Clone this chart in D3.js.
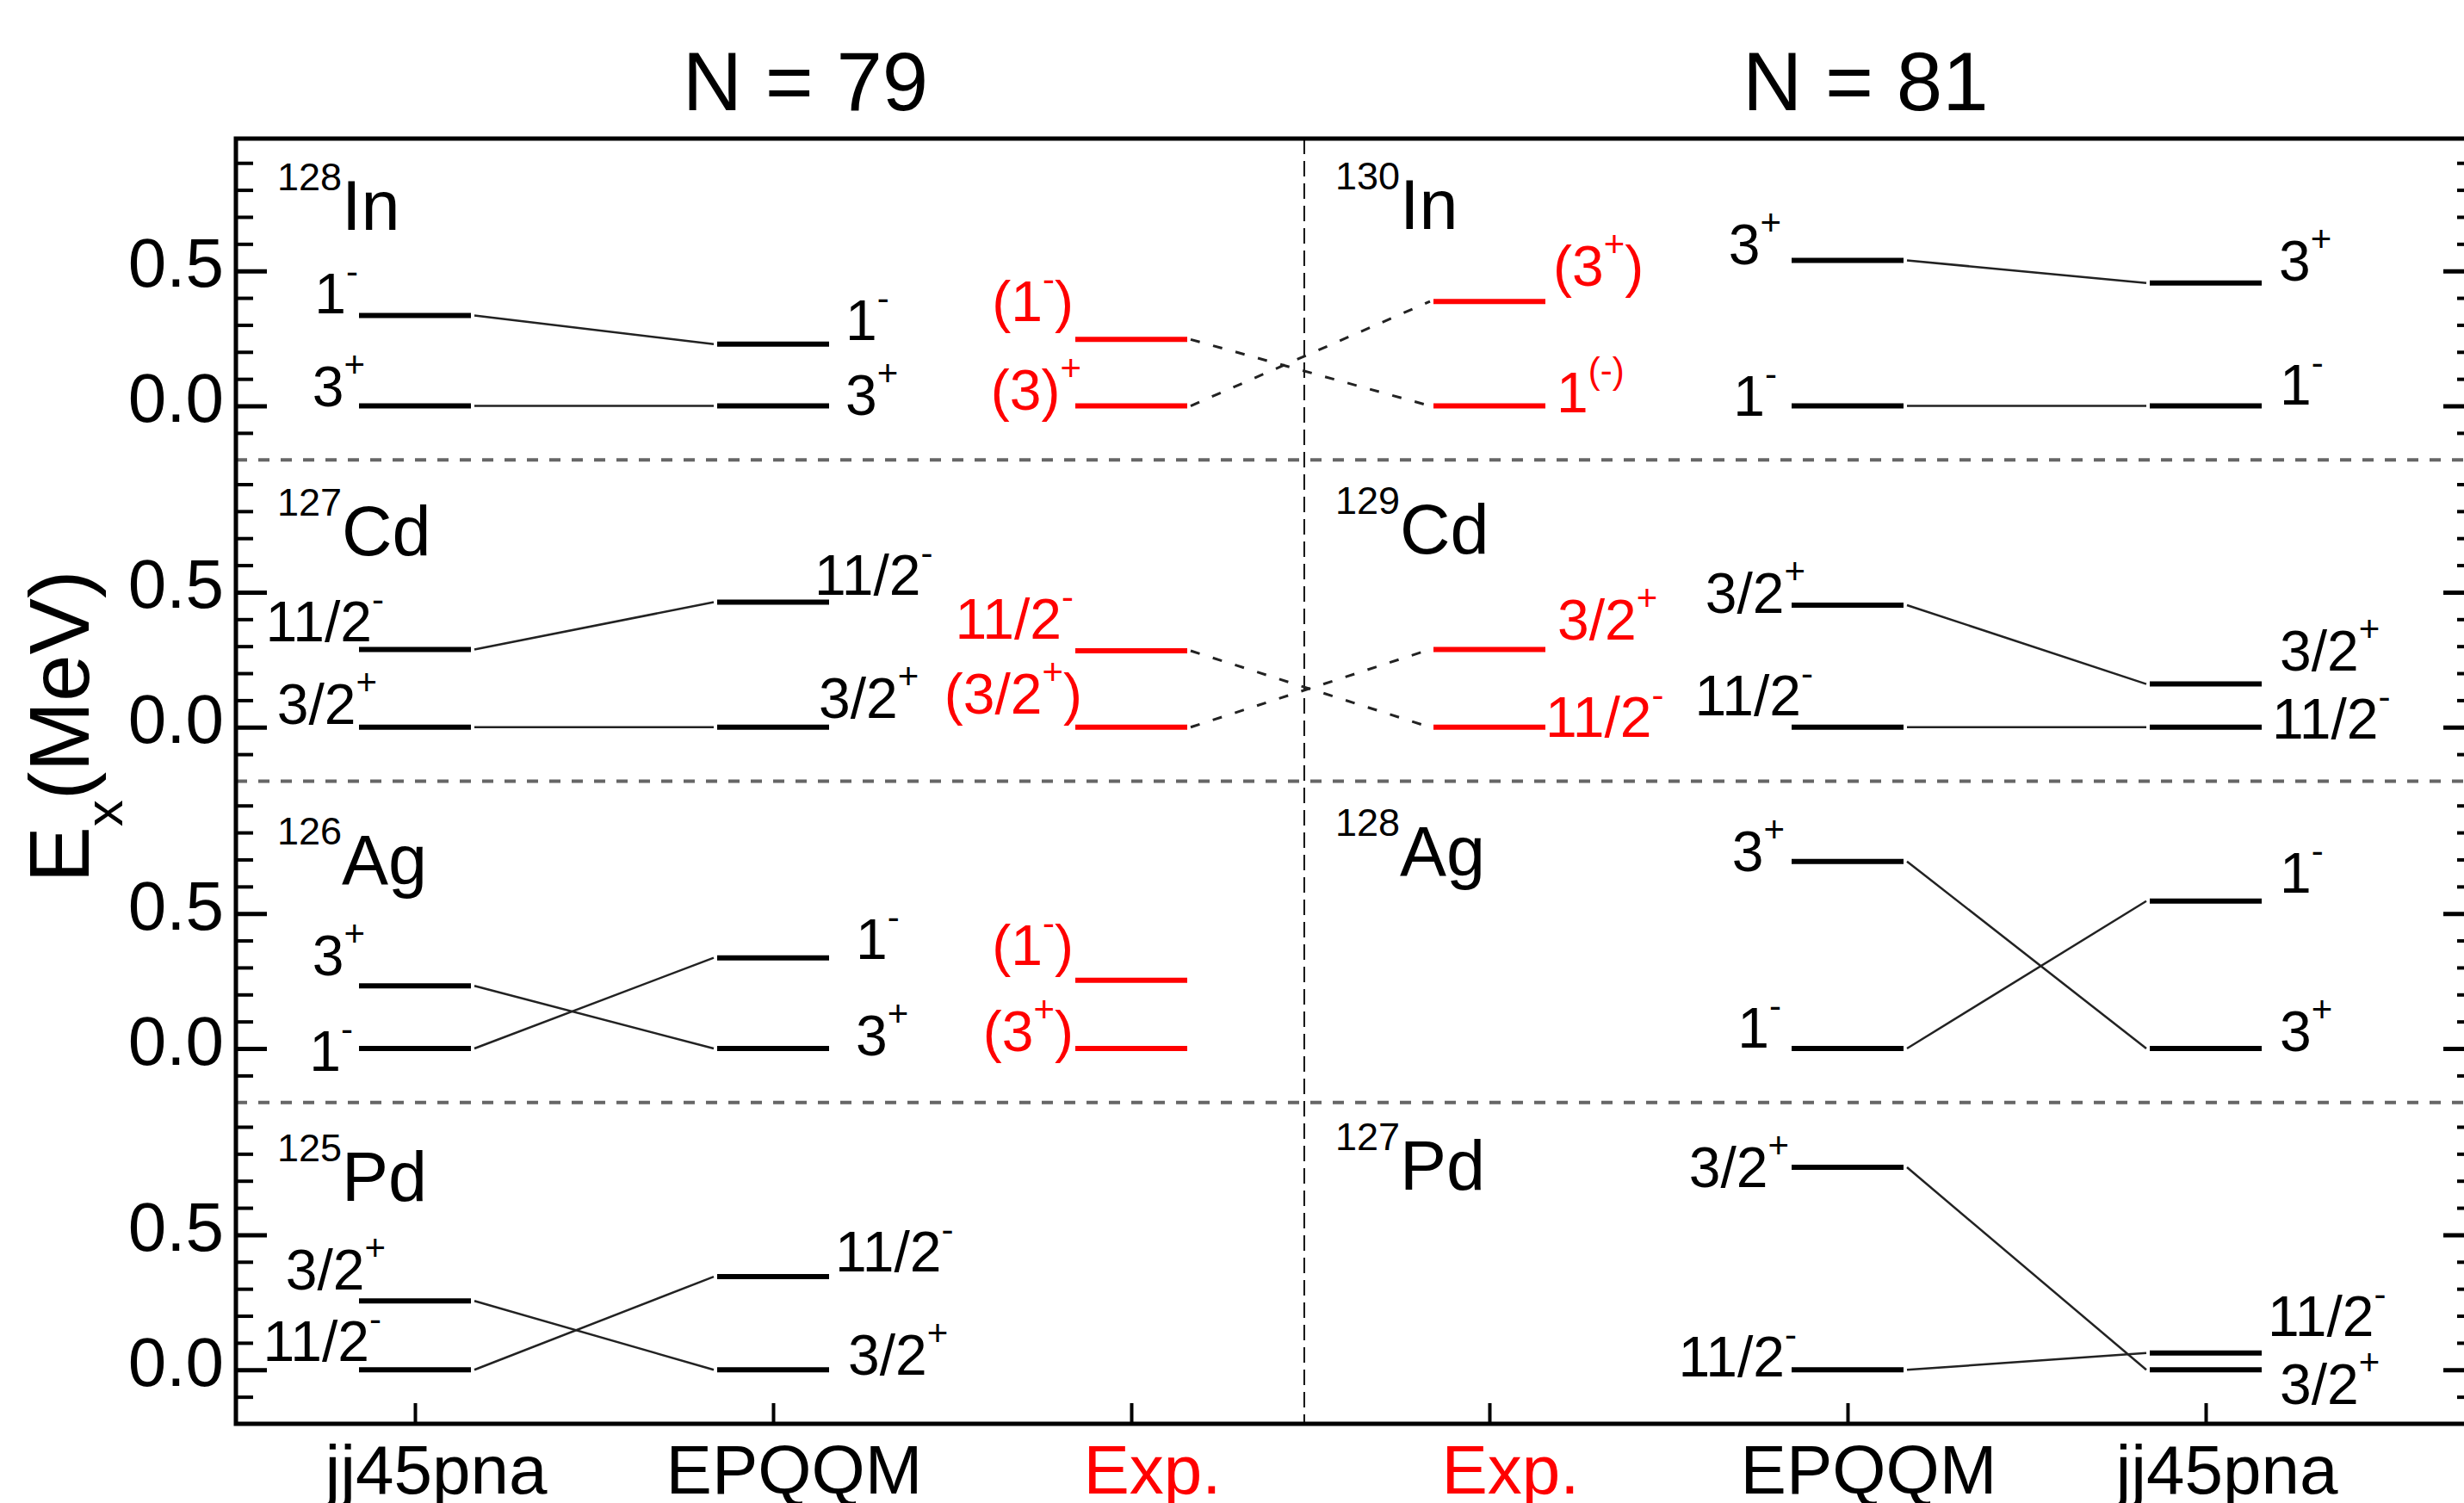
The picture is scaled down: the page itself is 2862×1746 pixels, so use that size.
<!DOCTYPE html>
<html>
<head>
<meta charset="utf-8">
<script src="https://cdn.jsdelivr.net/npm/d3@7"></script>
<style>
  body { margin: 0; background: #fff; }
  svg { display: block; }
</style>
</head>
<body>
<div id="chart"></div>
<script>
// ---- data ----
const categories = ["jj45pna", "EPQQM", "Exp.", "Exp.", "EPQQM", "jj45pna"];
const expColumns = [3, 4];
const panelTitles = ["N = 79", "N = 81"];
const nucleiN79 = [["128", "In"], ["127", "Cd"], ["126", "Ag"], ["125", "Pd"]];
const nucleiN81 = [["130", "In"], ["129", "Cd"], ["128", "Ag"], ["127", "Pd"]];
const majorTicks = [0, 0.5];
const minorTicks = [-0.1, 0.1, 0.2, 0.3, 0.4, 0.6, 0.7, 0.8, 0.9];

// [row, column (1..6), Ex (MeV), J^pi, label]  ({..} = superscript)
const levels = [
  [0, 1, 0.335, "1-", "1{-}"],
  [0, 1, 0.000, "3+", "3{+}"],
  [0, 2, 0.229, "1-", "1{-}"],
  [0, 2, 0.000, "3+", "3{+}"],
  [0, 3, 0.246, "1-", "(1{-})"],
  [0, 3, 0.000, "3+", "(3){+}"],
  [0, 4, 0.387, "3+", "(3{+})"],
  [0, 4, 0.000, "1-", "1{(-)}"],
  [0, 5, 0.539, "3+", "3{+}"],
  [0, 5, 0.000, "1-", "1{-}"],
  [0, 6, 0.455, "3+", "3{+}"],
  [0, 6, 0.000, "1-", "1{-}"],

  [1, 1, 0.288, "11/2-", "11/2{-}"],
  [1, 1, 0.000, "3/2+", "3/2{+}"],
  [1, 2, 0.463, "11/2-", "11/2{-}"],
  [1, 2, 0.000, "3/2+", "3/2{+}"],
  [1, 3, 0.283, "11/2-", "11/2{-}"],
  [1, 3, 0.000, "3/2+", "(3/2{+})"],
  [1, 4, 0.288, "3/2+", "3/2{+}"],
  [1, 4, 0.000, "11/2-", "11/2{-}"],
  [1, 5, 0.452, "3/2+", "3/2{+}"],
  [1, 5, 0.000, "11/2-", "11/2{-}"],
  [1, 6, 0.160, "3/2+", "3/2{+}"],
  [1, 6, 0.000, "11/2-", "11/2{-}"],

  [2, 1, 0.232, "3+", "3{+}"],
  [2, 1, 0.000, "1-", "1{-}"],
  [2, 2, 0.336, "1-", "1{-}"],
  [2, 2, 0.000, "3+", "3{+}"],
  [2, 3, 0.253, "1-", "(1{-})"],
  [2, 3, 0.000, "3+", "(3{+})"],
  [2, 5, 0.693, "3+", "3{+}"],
  [2, 5, 0.000, "1-", "1{-}"],
  [2, 6, 0.546, "1-", "1{-}"],
  [2, 6, 0.000, "3+", "3{+}"],

  [3, 1, 0.255, "3/2+", "3/2{+}"],
  [3, 1, 0.000, "11/2-", "11/2{-}"],
  [3, 2, 0.345, "11/2-", "11/2{-}"],
  [3, 2, 0.000, "3/2+", "3/2{+}"],
  [3, 5, 0.750, "3/2+", "3/2{+}"],
  [3, 5, 0.000, "11/2-", "11/2{-}"],
  [3, 6, 0.062, "11/2-", "11/2{-}"],
  [3, 6, 0.000, "3/2+", "3/2{+}"]
];

// ---- layout ----
// label nudges for each level above: [dx from column centre, dy from level] in px
const labelNudge = [
  [-66, -2], [-58, 0], [84, -5], [84, 10], [-67, -21], [-58, 4],
  [74, -18], [78, 7], [-77, 5], [-82, 11], [85, -3], [86, -2],
  [-36, -9], [-44, -4], [48, -9], [53, -11], [-67, -14], [-57, -16],
  [79, -11], [65, 11], [-49, 9], [-40, -14], [86, -16], [77, 13],
  [-58, -12], [-72, 26], [96, 1], [96, 8], [-67, -18], [-67, 3],
  [-73, 11], [-77, -1], [86, -10], [86, 3],
  [-34, -13], [-39, -10], [72, -6], [87, 6], [-68, 23], [-59, 8],
  [72, -20], [86, 40]
];
// baseline of the nucleus names, in MeV of each row: [N=79, N=81]
const nucleusLabelE = [[0.652, 0.655], [0.636, 0.643], [0.609, 0.641], [0.626, 0.668]];
const titleX = [2.09, 5.05];
const dividerX = 3.483;

const W = 2862, H = 1746;
const FONT = '"Liberation Sans", Arial, Helvetica, sans-serif';
const RED = "#ff0000";
const frame = { left: 274, right: 2874, top: 161, bottom: 1654 };
const halfLevel = 65;

const svg = d3.select("#chart").append("svg")
  .attr("width", W).attr("height", H)
  .attr("font-family", FONT);

const x = d3.scaleLinear().domain([0.5, 6.75]).range([frame.left, frame.right]);
const rowBand = d3.scaleBand().domain(d3.range(4)).range([frame.top, frame.bottom]);
const yOf = r => d3.scaleLinear().domain([-0.2, 0.99])
  .range([rowBand(r) + rowBand.bandwidth(), rowBand(r)]);
const colour = col => expColumns.includes(col) ? RED : "#000";

function parseLabel(s) {
  const parts = [];
  s.split(/(\{[^}]*\})/).forEach(p => {
    if (!p) return;
    if (p[0] === "{") parts.push({ t: p.slice(1, -1), sup: true });
    else parts.push({ t: p, sup: false });
  });
  return parts;
}

function fillSpans(text, parts, size, supSize, raise) {
  let cur = 0;
  parts.forEach(p => {
    const target = p.sup ? -raise : 0;
    text.append("tspan")
      .attr("font-size", p.sup ? supSize : size)
      .attr("dy", target - cur)
      .text(p.t);
    cur = target;
  });
}

// row separators and middle divider
d3.range(1, 4).forEach(r => {
  svg.append("line")
    .attr("x1", frame.left).attr("x2", frame.right)
    .attr("y1", rowBand(r)).attr("y2", rowBand(r))
    .attr("stroke", "#666").attr("stroke-width", 4)
    .attr("stroke-dasharray", "13,13");
});
svg.append("line")
  .attr("x1", x(dividerX)).attr("x2", x(dividerX))
  .attr("y1", frame.top).attr("y2", frame.bottom)
  .attr("stroke", "#111").attr("stroke-width", 2)
  .attr("stroke-dasharray", "18,8");

// y axes (one per row, left and right)
d3.range(4).forEach(r => {
  const y = yOf(r);
  svg.append("g")
    .attr("transform", `translate(${frame.left},0)`)
    .call(d3.axisLeft(y).tickValues(minorTicks).tickSizeInner(-20).tickSizeOuter(0).tickFormat(""))
    .call(g => g.select(".domain").remove())
    .call(g => g.selectAll("line").attr("stroke", "#000").attr("stroke-width", 4));
  svg.append("g")
    .attr("transform", `translate(${frame.left},0)`)
    .call(d3.axisLeft(y).tickValues(majorTicks).tickSizeInner(-36).tickSizeOuter(0)
      .tickPadding(14).tickFormat(d3.format(".1f")))
    .attr("font-family", FONT).attr("font-size", 80)
    .call(g => g.select(".domain").remove())
    .call(g => g.selectAll("line").attr("stroke", "#000").attr("stroke-width", 5))
    .call(g => g.selectAll("text").attr("dy", 18).attr("fill", "#000"));
  svg.append("g")
    .attr("transform", `translate(${frame.right},0)`)
    .call(d3.axisRight(y).tickValues(minorTicks).tickSizeInner(-20).tickSizeOuter(0).tickFormat(""))
    .call(g => g.select(".domain").remove())
    .call(g => g.selectAll("line").attr("stroke", "#000").attr("stroke-width", 4));
  svg.append("g")
    .attr("transform", `translate(${frame.right},0)`)
    .call(d3.axisRight(y).tickValues(majorTicks).tickSizeInner(-36).tickSizeOuter(0).tickFormat(""))
    .call(g => g.select(".domain").remove())
    .call(g => g.selectAll("line").attr("stroke", "#000").attr("stroke-width", 5));
});

// bottom axis with the method names
svg.append("g")
  .attr("transform", `translate(0,${frame.bottom})`)
  .call(d3.axisBottom(x).tickValues(d3.range(1, 7)).tickSizeInner(-24).tickSizeOuter(0)
    .tickFormat(d => categories[d - 1]))
  .attr("font-family", FONT).attr("font-size", 80)
  .call(g => g.select(".domain").remove())
  .call(g => g.selectAll("line").attr("stroke", "#000").attr("stroke-width", 4))
  .call(g => g.selectAll("text")
    .attr("y", 81).attr("dy", 0).attr("dx", 24)
    .attr("fill", d => colour(d)));

// frame
svg.append("rect")
  .attr("x", frame.left).attr("y", frame.top)
  .attr("width", frame.right - frame.left).attr("height", frame.bottom - frame.top)
  .attr("fill", "none").attr("stroke", "#000").attr("stroke-width", 5);

// connections between columns of the same half
const pairs = [[1, 2, false], [3, 4, true], [5, 6, false]];
d3.range(4).forEach(r => {
  const y = yOf(r);
  pairs.forEach(([a, b, dashed]) => {
    levels.filter(l => l[0] === r && l[1] === a).forEach(la => {
      const lb = levels.find(l => l[0] === r && l[1] === b && l[3] === la[3]);
      if (!lb) return;
      svg.append("line")
        .attr("x1", x(a) + halfLevel + 4).attr("y1", y(la[2]))
        .attr("x2", x(b) - halfLevel - 4).attr("y2", y(lb[2]))
        .attr("stroke", "#222")
        .attr("stroke-width", dashed ? 3 : 2.5)
        .attr("stroke-dasharray", dashed ? "11,16" : null);
    });
  });
});

// levels
svg.append("g").selectAll("line")
  .data(levels)
  .join("line")
  .attr("x1", d => x(d[1]) - halfLevel)
  .attr("x2", d => x(d[1]) + halfLevel)
  .attr("y1", d => yOf(d[0])(d[2]))
  .attr("y2", d => yOf(d[0])(d[2]))
  .attr("stroke", d => colour(d[1]))
  .attr("stroke-width", 6);

// spin-parity labels
levels.forEach((d, i) => {
  const [dx, dy] = labelNudge[i];
  const t = svg.append("text")
    .attr("x", x(d[1]) + dx)
    .attr("y", yOf(d[0])(d[2]) + dy)
    .attr("text-anchor", dx < 0 ? "end" : "start")
    .attr("fill", colour(d[1]));
  fillSpans(t, parseLabel(d[4]), 66, 42, 34);
});

// nucleus names
[nucleiN79, nucleiN81].forEach((list, side) => {
  const x0 = side === 0 ? frame.left + 48 : x(dividerX) + 36;
  list.forEach(([A, el], r) => {
    const t = svg.append("text")
      .attr("x", x0)
      .attr("y", yOf(r)(nucleusLabelE[r][side]))
      .attr("fill", "#000");
    fillSpans(t, [{ t: A, sup: true }, { t: el, sup: false }], 81, 45, 46);
  });
});

// panel titles
panelTitles.forEach((s, i) => {
  svg.append("text")
    .attr("x", x(titleX[i])).attr("y", 128)
    .attr("text-anchor", "middle")
    .attr("font-size", 96)
    .text(s);
});

// y-axis title
const yt = svg.append("text")
  .attr("transform", "translate(103,844) rotate(-90)")
  .attr("text-anchor", "middle");
yt.append("tspan").attr("font-size", 98).text("E");
yt.append("tspan").attr("font-size", 62).attr("dy", 39).text("x");
yt.append("tspan").attr("font-size", 98).attr("dy", -39).text("(MeV)");
</script>
</body>
</html>
